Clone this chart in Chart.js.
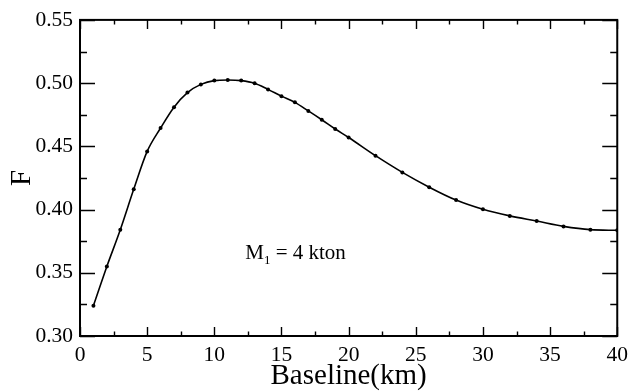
<!DOCTYPE html>
<html>
<head>
<meta charset="utf-8">
<script src="https://cdn.jsdelivr.net/npm/chart.js@4/dist/chart.umd.min.js"></script>
<style>
  html, body { margin: 0; padding: 0; background: #fff; }
  #wrap { width: 634px; height: 391px; }
</style>
</head>
<body>
<div id="wrap"><canvas id="chart"></canvas></div>
<script>
// baseline (km) and F values
const baseline = [1, 2, 3, 4, 5, 6, 7, 8, 9, 10, 11, 12, 13, 14, 15, 16, 17, 18, 19, 20,
                  22, 24, 26, 28, 30, 32, 34, 36, 38, 40];
const fValues = [0.324, 0.355, 0.384, 0.416, 0.446, 0.4645, 0.481, 0.4925, 0.499, 0.502,
                 0.5025, 0.502, 0.4999, 0.495, 0.4897, 0.4848, 0.478, 0.471, 0.4637, 0.457,
                 0.4426, 0.4294, 0.4177, 0.4075, 0.4002, 0.395, 0.3909, 0.3867, 0.3841, 0.3836];

const xMajor = [0, 5, 10, 15, 20, 25, 30, 35, 40];
const xMinor = [2.5, 7.5, 12.5, 17.5, 22.5, 27.5, 32.5, 37.5];
const yMajor = [0.30, 0.35, 0.40, 0.45, 0.50, 0.55];
const yMinor = [0.325, 0.375, 0.425, 0.475, 0.525];

// text label inside the plot
const labelPos = { x: 12.3, y: 0.361 };
const labelParts = ['M', '1', ' = 4 kton'];

const SERIF = '"Liberation Serif", "Times New Roman", serif';

// frame + inward ticks on all four sides, xmgrace style
const frameTicks = {
  id: 'frameTicks',
  afterDatasetsDraw(chart) {
    const { ctx, chartArea: a, scales: { x, y } } = chart;
    ctx.save();
    ctx.strokeStyle = '#000';
    ctx.lineCap = 'butt';

    ctx.lineWidth = 1.4;
    ctx.beginPath();
    const xt = (vals, len) => vals.forEach(v => {
      const px = Math.round(x.getPixelForValue(v)) + 0.5;
      ctx.moveTo(px, a.bottom); ctx.lineTo(px, a.bottom - len);
      ctx.moveTo(px, a.top); ctx.lineTo(px, a.top + len);
    });
    const yt = (vals, len) => vals.forEach(v => {
      const py = Math.round(y.getPixelForValue(v)) + 0.5;
      ctx.moveTo(a.left, py); ctx.lineTo(a.left + len, py);
      ctx.moveTo(a.right, py); ctx.lineTo(a.right - len, py);
    });
    xt(xMajor, 9); xt(xMinor, 4.5);
    yt(yMajor, 15); yt(yMinor, 7);
    ctx.stroke();

    ctx.lineWidth = 2;
    ctx.strokeRect(a.left, a.top, a.right - a.left, a.bottom - a.top);

    // M_1 = 4 kton
    let px = x.getPixelForValue(labelPos.x);
    const py = y.getPixelForValue(labelPos.y);
    ctx.fillStyle = '#000';
    ctx.textBaseline = 'alphabetic';
    ctx.textAlign = 'left';
    ctx.font = '21px ' + SERIF;
    ctx.fillText(labelParts[0], px, py);
    px += ctx.measureText(labelParts[0]).width;
    ctx.font = '13px ' + SERIF;
    ctx.fillText(labelParts[1], px, py + 5);
    px += ctx.measureText(labelParts[1]).width;
    ctx.font = '21px ' + SERIF;
    ctx.fillText(labelParts[2], px, py);
    ctx.restore();
  }
};

const ctx = document.getElementById('chart').getContext('2d');
new Chart(ctx, {
  type: 'line',
  data: {
    datasets: [{
      label: 'F',
      data: baseline.map((b, i) => ({ x: b, y: fValues[i] })),
      borderColor: '#000',
      backgroundColor: '#000',
      borderWidth: 1.6,
      pointRadius: 2,
      pointHoverRadius: 2,
      pointBorderWidth: 0,
      cubicInterpolationMode: 'monotone',
      fill: false
    }]
  },
  options: {
    responsive: true,
    maintainAspectRatio: false,
    animation: false,
    events: [],
    layout: { padding: { top: 17, right: 12, left: 0, bottom: 0 } },
    plugins: {
      legend: { display: false },
      tooltip: { enabled: false }
    },
    scales: {
      x: {
        type: 'linear',
        min: 0,
        max: 40,
        afterBuildTicks: s => { s.ticks = xMajor.map(v => ({ value: v })); },
        afterFit: s => { s.height = 55; },
        grid: { display: false, drawTicks: false },
        border: { display: false },
        ticks: {
          color: '#000',
          padding: 6,
          maxRotation: 0,
          font: { family: SERIF, size: 21.5 },
          callback: v => String(v)
        },
        title: {
          display: true,
          text: 'Baseline(km)',
          color: '#000',
          font: { family: SERIF, size: 29, lineHeight: 1 },
          padding: { top: 0, bottom: 0 }
        }
      },
      y: {
        type: 'linear',
        min: 0.30,
        max: 0.55,
        afterBuildTicks: s => { s.ticks = yMajor.map(v => ({ value: v })); },
        afterFit: s => { s.width = 80; },
        grid: { display: false, drawTicks: false },
        border: { display: false },
        ticks: {
          color: '#000',
          padding: 7,
          font: { family: SERIF, size: 21.5 },
          callback: v => Number(v).toFixed(2)
        },
        title: {
          display: true,
          text: 'F',
          color: '#000',
          font: { family: SERIF, size: 29, lineHeight: 1 },
          padding: { top: 8, bottom: 0 }
        }
      }
    }
  },
  plugins: [frameTicks]
});
</script>
</body>
</html>
